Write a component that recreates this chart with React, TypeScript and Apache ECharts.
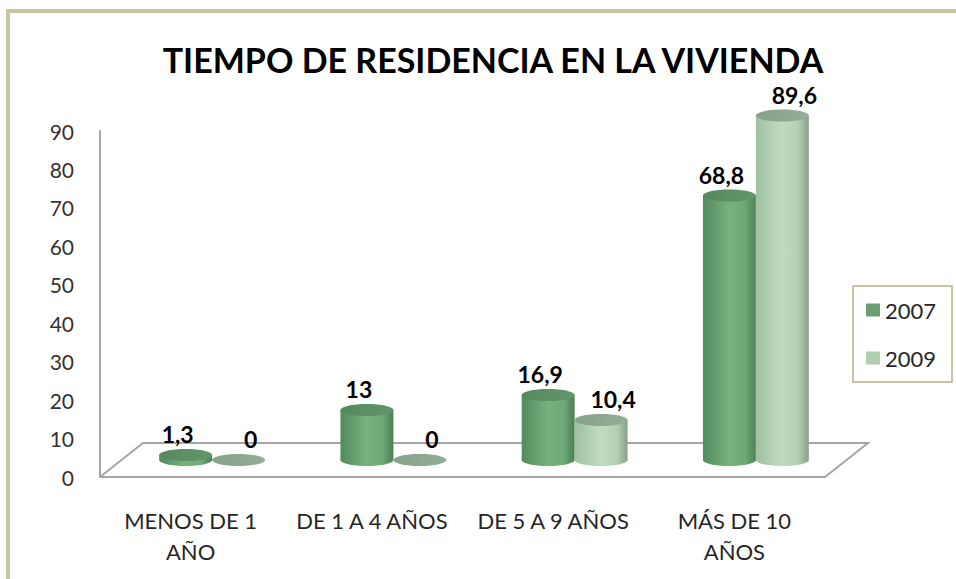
import React, { useEffect, useRef } from "react";
import * as echarts from "echarts";

const categories = ["MENOS DE 1\nAÑO", "DE 1 A 4 AÑOS", "DE 5 A 9 AÑOS", "MÁS DE 10\nAÑOS"];
const seriesNames = ["2007", "2009"];
const values2007 = [1.3, 13, 16.9, 68.8];
const values2009 = [0, 0, 10.4, 89.6];
const yMin = 0;
const yMax = 90;
const yInterval = 10;

const FONT = "Lato, 'Open Sans', sans-serif";
const AXIS_GRAY = "#a6a6a6";

const fmt = (v: number) => String(v).replace(".", ",");

const body2007 = () =>
  new echarts.graphic.LinearGradient(0, 0, 1, 0, [
    { offset: 0, color: "#518b5b" },
    { offset: 0.5, color: "#78b281" },
    { offset: 0.8, color: "#6ea877" },
    { offset: 1, color: "#4b7f53" },
  ]);
const top2007 = () =>
  new echarts.graphic.LinearGradient(0, 0, 1, 0, [
    { offset: 0, color: "#568a5e" },
    { offset: 1, color: "#62956a" },
  ]);
const body2009 = () =>
  new echarts.graphic.LinearGradient(0, 0, 1, 0, [
    { offset: 0, color: "#9fc0a1" },
    { offset: 0.5, color: "#c0dcc0" },
    { offset: 0.8, color: "#b2d0b2" },
    { offset: 1, color: "#879f8a" },
  ]);
const top2009 = () =>
  new echarts.graphic.LinearGradient(0, 0, 1, 0, [
    { offset: 0, color: "#86a28a" },
    { offset: 1, color: "#93ad96" },
  ]);

function makeCylinder(side: number, labelDx: number, bodyFill: () => any, topFill: () => any) {
  return (params: any, api: any) => {
    const idx = api.value(0);
    const v = api.value(1);
    const base = api.coord([idx, 0]);
    const top = api.coord([idx, v]);
    const band = api.size([1, 0])[0];
    const w = band * 0.292;
    const rx = w / 2;
    const ry = 6;
    const cx = base[0] + (side * w) / 2;
    const h = base[1] - top[1];
    const children: any[] = [];
    if (h > 0.5) {
      children.push({
        type: "ellipse",
        shape: { cx, cy: base[1], rx, ry },
        style: { fill: bodyFill() },
      });
      children.push({
        type: "rect",
        shape: { x: cx - rx, y: top[1], width: w, height: h },
        style: { fill: bodyFill() },
      });
    }
    children.push({
      type: "ellipse",
      shape: { cx, cy: top[1], rx, ry },
      style: { fill: topFill() },
    });
    children.push({
      type: "text",
      style: {
        text: fmt(v),
        x: cx + labelDx,
        y: top[1] - 21,
        align: "center",
        verticalAlign: "middle",
        fontFamily: FONT,
        fontSize: 23,
        fontWeight: "bold",
        fill: "#000000",
      },
    });
    return { type: "group", children };
  };
}

function floorRender(params: any, api: any) {
  const cs = params.coordSys;
  const fl = [cs.x, cs.y + cs.height];
  const fr = [cs.x + cs.width, cs.y + cs.height];
  const dx = 43;
  const dy = -34;
  return {
    type: "polyline",
    shape: {
      points: [fl, [fl[0] + dx, fl[1] + dy], [fr[0] + dx, fr[1] + dy], fr],
    },
    style: { stroke: AXIS_GRAY, lineWidth: 2, fill: "none" },
  };
}

export default function App() {
  const ref = useRef<HTMLDivElement>(null);
  useEffect(() => {
    document.body.style.margin = "0";
    if (!ref.current) return;
    const chart = echarts.init(ref.current, undefined, { renderer: "svg" });
    chart.setOption({
      animation: false,
      backgroundColor: "#ffffff",
      title: {
        text: "TIEMPO DE RESIDENCIA EN LA VIVIENDA",
        left: 488,
        top: 37,
        textAlign: "center",
        textStyle: { fontFamily: FONT, fontSize: 34, fontWeight: "bold", color: "#000000" },
      },
      legend: {
        data: seriesNames,
        orient: "vertical",
        left: 853,
        top: 286,
        borderColor: "#c9c4a0",
        borderWidth: 2,
        padding: [12, 16, 12, 13],
        itemGap: 24,
        itemWidth: 14,
        itemHeight: 13,
        icon: "rect",
        textStyle: { fontFamily: FONT, fontSize: 22, color: "#262626", lineHeight: 24 },
      },
      graphic: [
        {
          type: "rect",
          shape: { x: 8, y: 11, width: 1200, height: 1000 },
          style: { fill: "none", stroke: "#c9c4a0", lineWidth: 4 },
          silent: true,
        },
      ],
      grid: [
        { left: 100, right: 131, top: 131, bottom: 102 },
        { left: 121.5, right: 109.5, top: 114, bottom: 119 },
      ],
      xAxis: [
        {
          type: "category",
          gridIndex: 0,
          data: categories,
          axisLine: { show: true, lineStyle: { color: AXIS_GRAY, width: 2 } },
          axisTick: { show: false },
          axisLabel: {
            interval: 0,
            margin: 28,
            fontFamily: FONT,
            fontSize: 22,
            lineHeight: 31,
            color: "#262626",
          },
        },
        {
          type: "category",
          gridIndex: 1,
          data: categories,
          show: false,
        },
      ],
      yAxis: [
        {
          type: "value",
          gridIndex: 0,
          min: yMin,
          max: yMax,
          interval: yInterval,
          axisLine: { show: true, lineStyle: { color: AXIS_GRAY, width: 2 } },
          axisTick: { show: false },
          splitLine: { show: false },
          axisLabel: { margin: 26, fontFamily: FONT, fontSize: 21, color: "#333333" },
        },
        {
          type: "value",
          gridIndex: 1,
          min: yMin,
          max: yMax,
          show: false,
        },
      ],
      series: [
        {
          type: "custom",
          name: "floor",
          xAxisIndex: 0,
          yAxisIndex: 0,
          data: [[0, 0]],
          renderItem: floorRender,
          silent: true,
          clip: false,
          z: 1,
        },
        {
          type: "custom",
          name: seriesNames[0],
          xAxisIndex: 1,
          yAxisIndex: 1,
          itemStyle: { color: "#6b9e74" },
          data: values2007.map((v, i) => [i, v]),
          encode: { x: 0, y: 1 },
          renderItem: makeCylinder(-1, -8, body2007, top2007),
          clip: false,
          z: 2,
        },
        {
          type: "custom",
          name: seriesNames[1],
          xAxisIndex: 1,
          yAxisIndex: 1,
          itemStyle: { color: "#aed0b0" },
          data: values2009.map((v, i) => [i, v]),
          encode: { x: 0, y: 1 },
          renderItem: makeCylinder(1, 12, body2009, top2009),
          clip: false,
          z: 3,
        },
      ],
    });
    return () => chart.dispose();
  }, []);
  return <div ref={ref} style={{ width: 956, height: 579 }} />;
}
